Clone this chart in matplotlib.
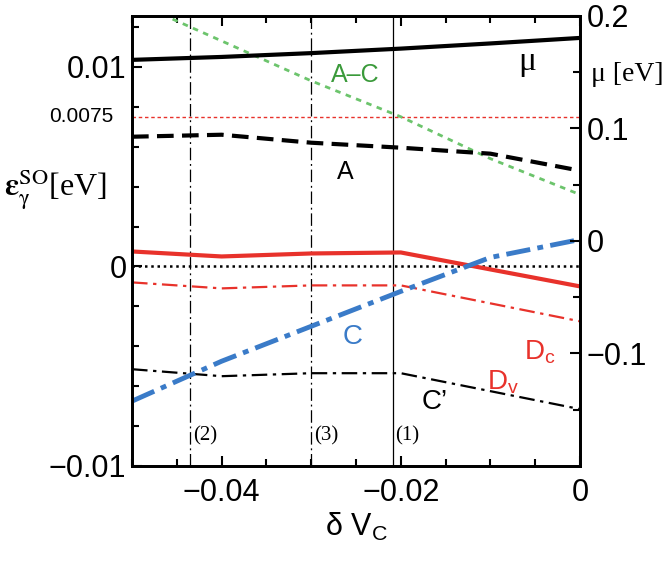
import numpy as np
import matplotlib.pyplot as plt
from matplotlib.ticker import MultipleLocator, FixedLocator

# gate shift
dvc = [-0.05, -0.04, -0.03, -0.02, -0.01, 0.0]

# spin-orbit splittings [eV] (left axis)
eps_A = [0.0065, 0.0066, 0.0062, 0.00595, 0.00565, 0.0048]
eps_AC = [0.0133, 0.0113, 0.0093, 0.0075, 0.0054, 0.0036]
eps_C = [-0.00675, -0.00475, -0.0030, -0.00125, 0.00045, 0.00135]
eps_Cp = [-0.00515, -0.0055, -0.00535, -0.00535, -0.00625, -0.00715]
eps_Dc = [0.00075, 0.0005, 0.00065, 0.0007, -0.00015, -0.0010]
eps_Dv = [-0.0008, -0.0011, -0.00095, -0.00095, -0.00185, -0.00275]

# chemical potential [eV] (right axis)
mu = [0.161, 0.1636, 0.167, 0.171, 0.1756, 0.1805]

# marked gate values
vlines = [-0.0435, -0.030, -0.0209]
vline_labels = ["(2)", "(3)", "(1)"]

red = "#e8322b"
blue = "#3a7bc8"
green_line = "#6cc46c"
green_txt = "#3a9a3a"

plt.rcParams['font.family'] = ['Liberation Sans', 'DejaVu Sans']
plt.rcParams['mathtext.fontset'] = 'custom'
plt.rcParams['mathtext.rm'] = 'Liberation Sans'
plt.rcParams['mathtext.it'] = 'Liberation Sans:italic'
plt.rcParams['mathtext.bf'] = 'Liberation Sans:bold'
plt.rcParams['mathtext.sf'] = 'Liberation Sans'

fig = plt.figure(figsize=(6.64, 5.63), dpi=100)
ax = fig.add_axes([0.1988, 0.1723, 0.6747, 0.7993])
ax2 = ax.twinx()

ax.axhline(0, color="black", lw=1.8, ls=(0, (1, 1.5)))
ax.axhline(0.0075, color=red, lw=1.0, ls=(0, (2.5, 2)))

ax.axvline(vlines[0], color="black", lw=0.9, ls=(0, (10, 3, 1.5, 3)))
ax.axvline(vlines[1], color="black", lw=0.9, ls=(0, (10, 3, 1.5, 3)))
ax.axvline(vlines[2], color="black", lw=0.9)
for xv, lab in zip(vlines, vline_labels):
    ax.text(xv + 0.0003, -0.0085, lab, fontsize=15, family="Liberation Serif", va="center", ha="left")

ax.plot(dvc, eps_AC, color=green_line, lw=2.0, ls=(0, (2, 2)))
ax.plot(dvc, eps_A, color="black", lw=3.0, ls=(0, (4, 2)))
ax.plot(dvc, eps_Cp, color="black", lw=1.6, ls=(0, (7, 2.5, 1.5, 2.5)))
ax.plot(dvc, eps_Dv, color=red, lw=1.6, ls=(0, (7, 2.5, 1.5, 2.5)))
ax.plot(dvc, eps_Dc, color=red, lw=3.0)
ax.plot(dvc, eps_C, color=blue, lw=3.5, ls=(0, (5, 1.5, 1.2, 1.5)))
ax2.plot(dvc, mu, color="black", lw=3.0)

ax.set_xlim(-0.05, 0)
ax.set_ylim(-0.01, 0.01255)
ax2.set_ylim(-0.2, 0.2)

ax.xaxis.set_major_locator(FixedLocator([-0.04, -0.02, 0]))
ax.xaxis.set_minor_locator(MultipleLocator(0.005))
ax.set_xticklabels(["\u22120.04", "\u22120.02", "0"])
ax.yaxis.set_major_locator(FixedLocator([-0.01, 0, 0.01]))
ax.yaxis.set_minor_locator(FixedLocator([-0.008, -0.006, -0.004, -0.002, 0.002, 0.004, 0.006, 0.008, 0.012]))
ax.set_yticklabels(["\u22120.01", "0", "0.01"])
ax2.yaxis.set_major_locator(FixedLocator([-0.1, 0, 0.1, 0.2]))
ax2.yaxis.set_minor_locator(FixedLocator([-0.15, -0.05, 0.05, 0.15]))
ax2.set_yticklabels(["\u22120.1", "0", "0.1", "0.2"])

ax.tick_params(axis="both", which="both", direction="in", top=True, right=False, labelsize=22, width=1.5)
ax.tick_params(axis="x", which="major", length=7, pad=9)
ax.tick_params(axis="y", which="major", length=7, pad=4)
ax.tick_params(which="minor", length=5)
ax2.tick_params(axis="y", which="both", direction="in", labelsize=22, width=1.5, pad=5)
ax2.tick_params(which="major", length=7)
ax2.tick_params(which="minor", length=5)
for a in (ax, ax2):
    for s in a.spines.values():
        s.set_linewidth(2.0)

ax.text(-0.0521, 0.0075, "0.0075", fontsize=15, ha="right", va="center")

ax.set_xlabel(r"$\mathrm{\delta\ V_C}$", fontsize=22, labelpad=2)
fig.text(0.006, 0.663, r"$\mathbf{\varepsilon}_{\mathrm{\gamma}}^{\mathrm{SO}}$[eV]", fontsize=23,
         family="Liberation Serif", math_fontfamily="stix", ha="left", va="center")
fig.text(0.944, 0.867, "\u03bc [eV]", fontsize=20, family="Liberation Serif", ha="center", va="center")

ax.text(-0.0059, 0.01025, "\u03bc", fontsize=24, family="Liberation Serif", ha="center", va="center")
ax.text(-0.0251, 0.0096, "A\u2013C", fontsize=18, color=green_txt, ha="center", va="center")
ax.text(-0.0262, 0.00475, "A", fontsize=18, ha="center", va="center")
ax.text(-0.0254, -0.00355, "C", fontsize=20, color=blue, ha="center", va="center")
ax.text(-0.0045, -0.0043, r"$\mathrm{D_c}$", fontsize=20, color=red, ha="center", va="center")
ax.text(-0.0086, -0.0058, r"$\mathrm{D_v}$", fontsize=20, color=red, ha="center", va="center")
ax.text(-0.0162, -0.0068, "C\u2019", fontsize=20, ha="center", va="center")

fig.savefig("out.png", dpi=100)
